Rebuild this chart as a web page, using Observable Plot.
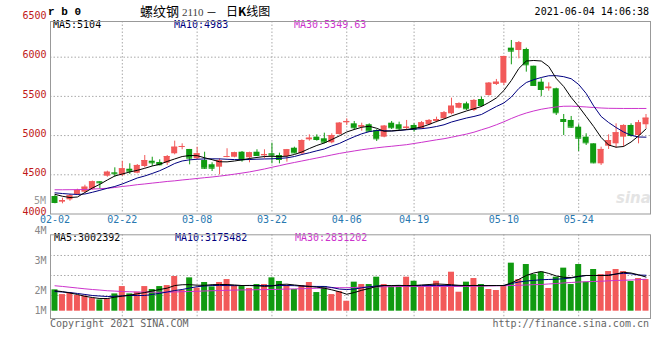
<!DOCTYPE html>
<html><head><meta charset="utf-8">
<script src="https://cdn.jsdelivr.net/npm/d3@7"></script>
<script src="https://cdn.jsdelivr.net/npm/@observablehq/plot@0.6"></script>
<style>
body{margin:0;background:#fff;}
#wrap{position:relative;width:660px;height:360px;overflow:hidden;background:#fff;font-family:"DejaVu Sans Mono",monospace;font-size:10px;}
.t{position:absolute;white-space:nowrap;line-height:12px;}
</style></head><body>
<div id="wrap">
  <div class="t" style="left:48px;top:5px;font:bold 11px 'Liberation Mono',monospace;line-height:14px;">r b 0</div>
  <div class="t" style="left:140px;top:3px;font:13px 'Noto Sans CJK SC';line-height:16px;">螺纹钢</div>
  <div class="t" style="left:182px;top:5px;font:11px 'Liberation Serif',serif;line-height:14px;color:#444;">2110</div>
  <div class="t" style="left:206px;top:4px;font:11px 'Noto Sans CJK SC';line-height:16px;">－</div>
  <div class="t" style="left:226px;top:3px;font:12px 'Noto Sans CJK SC';line-height:16px;">日<b>K</b>线图</div>
  <div class="t" style="right:11px;top:6px;">2021-06-04 14:06:38</div>
  <div class="t" style="left:53px;top:18.5px;color:#000;">MA5:5104</div>
  <div class="t" style="left:174px;top:18.5px;color:#000080;">MA10:4983</div>
  <div class="t" style="left:294px;top:18.5px;color:#cc33cc;">MA30:5349.63</div>
  <div class="t" style="right:614px;top:194.7px;color:#999;">5M</div>
  <div class="t" style="left:616px;top:190px;font:italic bold 15px 'DejaVu Sans',sans-serif;line-height:16px;color:#e4e4e4;">sina</div>
  <div class="t" style="left:54px;top:232.3px;color:#000;">MA5:3002392</div>
  <div class="t" style="left:175px;top:232.3px;color:#000080;">MA10:3175482</div>
  <div class="t" style="left:295px;top:232.3px;color:#cc33cc;">MA30:2831202</div>
  <div class="t" style="left:50px;top:318px;color:#666;">Copyright 2021 SINA.COM</div>
  <div class="t" style="right:11px;top:318px;color:#666;">http://finance.sina.com.cn</div>
</div>
<script>
const dates = ["02-02","02-03","02-04","02-05","02-08","02-09","02-10","02-18","02-19","02-22",
"02-23","02-24","02-25","02-26","03-01","03-02","03-03","03-04","03-05","03-08",
"03-09","03-10","03-11","03-12","03-15","03-16","03-17","03-18","03-19","03-22",
"03-23","03-24","03-25","03-26","03-29","03-30","03-31","04-01","04-02","04-06",
"04-07","04-08","04-09","04-12","04-13","04-14","04-15","04-16","04-19","04-20",
"04-21","04-22","04-23","04-26","04-27","04-28","04-29","04-30","05-06","05-07",
"05-10","05-11","05-12","05-13","05-14","05-17","05-18","05-19","05-20","05-21",
"05-24","05-25","05-26","05-27","05-28","05-31","06-01","06-02","06-03","06-04"];
const open = [4223,4151,4181,4249,4278,4316,4411,4482,4525,4495,
4571,4520,4606,4673,4657,4648,4768,4852,4823,4704,
4682,4628,4597,4724,4724,4788,4717,4788,4742,4768,
4746,4733,4839,4768,4946,4980,4959,4908,5014,5163,
5150,5107,5138,5065,4980,5158,5138,5091,5129,5087,
5138,5180,5214,5278,5349,5405,5320,5460,5511,5652,
5668,6115,6085,6098,5885,5681,5597,5597,5205,5193,
5107,4980,4895,4640,4865,4895,4980,5129,5001,5138];
const high = [4240,4202,4249,4316,4367,4420,4411,4546,4589,4673,
4640,4631,4746,4724,4691,4746,4929,4895,4823,4852,
4788,4653,4704,4832,4788,4797,4788,4819,4819,4903,
4776,4823,4852,4946,5010,5010,5031,5023,5167,5214,
5180,5158,5150,5074,5129,5180,5171,5193,5150,5180,
5205,5235,5307,5477,5418,5426,5460,5490,5677,5716,
6013,6213,6200,6115,5885,5724,5673,5605,5269,5244,
5138,5023,4895,4852,5010,5150,5138,5150,5193,5269];
const low = [4130,4130,4163,4236,4265,4306,4316,4469,4469,4478,
4504,4513,4589,4606,4615,4619,4755,4819,4627,4691,
4568,4542,4500,4717,4717,4661,4653,4733,4704,4640,
4640,4661,4767,4759,4929,4929,4895,4895,5005,5129,
5065,5056,5043,4925,4972,5078,5065,5065,5043,5078,
5129,5163,5205,5265,5342,5320,5307,5362,5503,5639,
5639,5903,5979,5809,5630,5499,5566,5256,5001,5094,
4797,4874,4640,4619,4823,4839,4852,4980,4895,5087];
const close = [4147,4172,4232,4300,4342,4411,4398,4533,4513,4577,
4546,4619,4682,4653,4628,4733,4852,4861,4712,4768,
4584,4584,4682,4733,4781,4691,4781,4746,4759,4750,
4695,4819,4780,4937,4967,4950,4916,5001,5158,5180,
5100,5125,5056,4959,5120,5100,5087,5107,5078,5163,
5193,5205,5291,5375,5409,5342,5448,5384,5668,5681,
6009,6077,6184,5903,5639,5588,5617,5291,5180,5107,
4967,4908,4653,4823,4937,5036,5129,5001,5163,5222];
const ma5 = [4251,4226,4210,4217,4274,4332,4379,4434,4485,4510,
4536,4557,4583,4612,4634,4670,4702,4733,4746,4744,
4717,4693,4666,4665,4676,4691,4708,4721,4733,4736,
4733,4737,4759,4791,4835,4874,4906,4950,4995,5046,
5078,5106,5119,5093,5055,5059,5068,5078,5091,5110,
5142,5180,5212,5250,5282,5314,5342,5371,5422,5480,
5575,5703,5856,5951,5958,5951,5881,5728,5626,5486,
5371,5244,5116,4976,4880,4852,4861,4918,4995,5085];
const ma10 = [4270,4261,4254,4249,4255,4277,4302,4328,4351,4383,
4421,4459,4485,4517,4552,4596,4644,4676,4691,4698,
4703,4704,4703,4698,4694,4693,4695,4699,4702,4704,
4709,4716,4733,4759,4781,4806,4829,4868,4899,4944,
4985,5023,5050,5065,5062,5059,5065,5074,5083,5088,
5099,5116,5138,5173,5199,5224,5244,5269,5320,5371,
5416,5492,5601,5677,5713,5741,5763,5764,5751,5725,
5652,5537,5378,5244,5167,5103,5046,5004,4982,4980];
const ma30 = [4309,4309,4310,4311,4312,4318,4323,4328,4338,4351,
4361,4374,4383,4394,4404,4415,4423,4434,4443,4453,
4463,4472,4483,4495,4508,4522,4537,4555,4574,4596,
4616,4638,4657,4676,4695,4714,4733,4753,4772,4788,
4804,4819,4832,4844,4855,4864,4874,4884,4899,4914,
4930,4946,4960,4979,4999,5019,5043,5074,5103,5138,
5176,5218,5256,5288,5314,5336,5352,5365,5374,5375,
5371,5365,5358,5352,5348,5347,5346,5346,5346,5346];
// volume in millions of lots
const volume = [1.89,1.47,1.62,1.39,1.33,1.15,1.00,1.09,1.53,2.18,
1.53,1.68,2.18,1.92,2.18,2.27,3.07,1.83,2.95,2.04,
2.54,2.15,2.54,2.80,2.27,2.18,2.01,2.36,2.36,2.95,
2.63,2.27,1.92,2.27,2.54,1.65,2.18,1.47,1.74,0.88,
2.57,2.36,2.36,3.01,2.36,2.18,2.18,3.01,2.65,2.18,
2.18,2.65,2.18,3.45,1.68,2.57,2.89,2.36,1.92,1.83,
2.18,4.25,2.80,4.13,3.24,3.45,2.01,3.01,3.81,2.36,
4.13,2.57,3.69,3.24,3.51,3.69,3.51,2.63,2.89,2.80];
const volMa5 = [1.81,1.73,1.61,1.48,1.32,1.21,1.12,1.12,1.24,1.33,
1.42,1.54,1.65,1.79,1.92,2.04,2.27,2.34,2.35,2.30,
2.29,2.35,2.36,2.36,2.32,2.27,2.27,2.25,2.20,2.23,
2.36,2.39,2.32,2.25,2.19,2.13,2.03,1.89,1.72,1.50,
1.65,1.85,2.01,2.19,2.27,2.27,2.28,2.26,2.27,2.32,
2.36,2.41,2.38,2.34,2.29,2.27,2.28,2.26,2.27,2.27,
2.27,2.50,2.82,3.16,3.38,3.51,3.34,3.12,3.00,2.98,
3.09,3.16,3.16,3.16,3.16,3.29,3.44,3.38,3.22,3.02];
const volMa10 = [1.74,1.70,1.65,1.57,1.48,1.39,1.34,1.30,1.32,1.36,
1.39,1.39,1.39,1.48,1.58,1.70,1.83,1.92,2.05,2.17,
2.23,2.27,2.28,2.27,2.26,2.27,2.28,2.27,2.27,2.26,
2.27,2.27,2.26,2.22,2.20,2.19,2.19,2.10,1.96,1.92,
1.96,2.07,2.16,2.23,2.27,2.27,2.28,2.27,2.26,2.27,
2.27,2.28,2.27,2.27,2.26,2.27,2.27,2.28,2.27,2.27,
2.27,2.45,2.58,2.67,2.73,2.78,2.81,2.83,2.87,2.94,
3.07,3.16,3.16,3.16,3.20,3.29,3.35,3.31,3.20,3.18];
const volMa30 = [2.25,2.19,2.12,2.05,1.98,1.92,1.87,1.81,1.78,1.74,
1.72,1.70,1.69,1.68,1.68,1.68,1.70,1.73,1.74,1.76,
1.79,1.81,1.83,1.85,1.87,1.88,1.89,1.90,1.91,1.92,
1.94,1.96,1.97,1.99,2.01,2.03,2.05,2.08,2.08,2.08,
2.10,2.12,2.13,2.15,2.16,2.17,2.18,2.19,2.19,2.19,
2.19,2.19,2.19,2.19,2.19,2.19,2.20,2.22,2.23,2.25,
2.26,2.27,2.29,2.32,2.35,2.36,2.41,2.45,2.50,2.54,
2.58,2.61,2.63,2.65,2.69,2.72,2.74,2.76,2.79,2.83];
const dateTicks = ["02-02","02-22","03-08","03-22","04-06","04-19","05-10","05-24"];
const gridDates = ["02-22","03-08","03-22","04-06","04-19","05-10","05-24"];
const priceTicks = [4000,4500,5000,5500,6000,6500];
const priceGrid = [4500,5000,5500,6000];
const volGrid = [1.39,3.16,4.93];
const volTickLabels = ["4M","3M","2M","1M"];
const volTickAt = [7.08,4.42,1.77,0];

const rows = dates.map((d,i)=>({date:d, open:open[i], high:high[i], low:low[i], close:close[i],
  ma5:ma5[i], ma10:ma10[i], ma30:ma30[i], vol:volume[i], vma5:volMa5[i], vma10:volMa10[i], vma30:volMa30[i]}));

const UP = "#f25a5a", DOWN = "#109a10";
const col = d => d.close >= d.open ? UP : DOWN;
const grid = {stroke:"#aaa", strokeDasharray:"1.5,2", strokeWidth:1};
const style = {background:"transparent", overflow:"visible", fontFamily:"DejaVu Sans Mono, monospace", fontSize:"10px"};
const xOpt = () => ({type:"band", domain:dates, padding:0.2, axis:null});

const price = Plot.plot({
  width:660, height:228, marginLeft:50, marginRight:10, marginTop:21, marginBottom:14.5,
  style, x:xOpt(), y:{domain:[4000,6455], axis:null},
  marks:[
    Plot.ruleY(priceGrid, grid),
    Plot.ruleX(gridDates, grid),
    Plot.ruleX(rows, {x:"date", y1:"low", y2:"high", stroke:col}),
    Plot.barY(rows, {x:"date", y1:"open", y2:"close", fill:col}),
    Plot.tickY(rows, {x:"date", y:"close", stroke:col}),
    Plot.lineY(rows, {x:"date", y:"ma30", stroke:"#cc33cc", strokeWidth:1}),
    Plot.lineY(rows, {x:"date", y:"ma10", stroke:"#000080", strokeWidth:1}),
    Plot.lineY(rows, {x:"date", y:"ma5", stroke:"#000", strokeWidth:1}),
    Plot.frame({stroke:"#999"}),
    Plot.text(priceTicks, {y:d=>d, text:d=>String(d), frameAnchor:"left", dx:-4, dy:-2, textAnchor:"end", fill:"#c01818"}),
    Plot.text(dateTicks, {x:d=>d, text:d=>d, frameAnchor:"bottom", dy:9, fill:"#2878b0"})
  ]
});
price.style.position = "absolute"; price.style.left = "0px"; price.style.top = "0px";
document.getElementById("wrap").appendChild(price);

const vol = Plot.plot({
  width:660, height:110, marginLeft:50, marginRight:10, marginTop:6.3, marginBottom:20,
  style, x:xOpt(), y:{domain:[0,6.76], range:[82.7,6.3], axis:null},
  marks:[
    Plot.ruleY(volGrid, grid),
    Plot.ruleX(gridDates, grid),
    Plot.barY(rows, {x:"date", y:"vol", fill:col}),
    Plot.lineY(rows, {x:"date", y:"vma30", stroke:"#cc33cc", strokeWidth:1}),
    Plot.lineY(rows, {x:"date", y:"vma10", stroke:"#000080", strokeWidth:1}),
    Plot.lineY(rows, {x:"date", y:"vma5", stroke:"#000", strokeWidth:1}),
    Plot.frame({stroke:"#999"}),
    Plot.text(volTickLabels, {y:(d,i)=>volTickAt[i], text:d=>d, frameAnchor:"left", dx:-4, textAnchor:"end", fill:"#888"})
  ]
});
vol.style.position = "absolute"; vol.style.left = "0px"; vol.style.top = "228px";
document.getElementById("wrap").appendChild(vol);
</script>
</body></html>
